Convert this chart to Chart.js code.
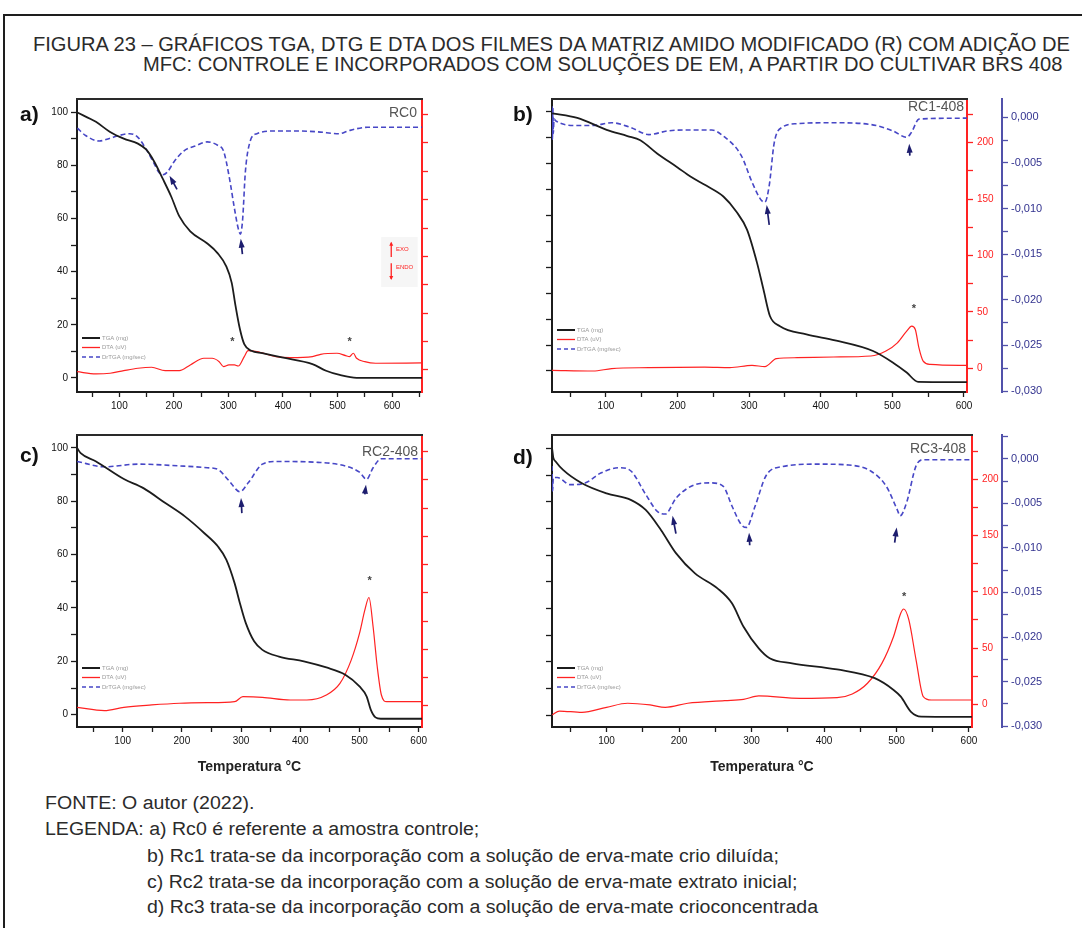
<!DOCTYPE html>
<html lang="pt-BR">
<head>
<meta charset="utf-8">
<title>Figura 23 – TGA, DTG e DTA</title>
<script src="https://cdn.jsdelivr.net/npm/chart.js@4.4.1/dist/chart.umd.min.js"></script>
<style>
  html, body { margin: 0; padding: 0; background: #fff; }
  body { position: relative; width: 1082px; height: 928px; overflow: hidden; color: #2b2b2b;
         font-family: "Liberation Sans Narrow", "Liberation Sans", Arial, sans-serif; }
  .frame { position: absolute; left: 3px; top: 14px; width: 1100px; height: 940px;
           border-left: 2px solid #1e1e1e; border-top: 2px solid #1e1e1e; }
  .line { position: absolute; white-space: nowrap; line-height: 1; transform-origin: 0 50%; }
  .caption { font-size: 20px; }
  .note { font-size: 18px; }
  .tag { position: absolute; line-height: 1; font: bold 21px "Liberation Sans", Arial, sans-serif; color: #111; }
  canvas { position: absolute; }
</style>
</head>
<body>
<div class="frame"></div>
<div class="line caption" id="cap1" style="left:33px;top:34px">FIGURA 23 – GRÁFICOS TGA, DTG E DTA DOS FILMES DA MATRIZ AMIDO MODIFICADO (R) COM ADIÇÃO DE</div>
<div class="line caption" id="cap2" style="left:143px;top:54px">MFC: CONTROLE E INCORPORADOS COM SOLUÇÕES DE EM, A PARTIR DO CULTIVAR BRS 408</div>

<canvas id="rc0" width="500" height="338" style="left:27px;top:84px"></canvas>
<canvas id="rc1" width="570" height="338" style="left:502px;top:84px"></canvas>
<canvas id="rc2" width="500" height="362" style="left:27px;top:420px"></canvas>
<canvas id="rc3" width="570" height="362" style="left:502px;top:420px"></canvas>

<div class="tag" style="left:20px;top:102px">a)</div>
<div class="tag" style="left:513px;top:102px">b)</div>
<div class="tag" style="left:20px;top:443px">c)</div>
<div class="tag" style="left:513px;top:445px">d)</div>

<div class="line note" id="n1" style="left:45px;top:794px">FONTE: O autor (2022).</div>
<div class="line note" id="n2" style="left:45px;top:820px">LEGENDA: a) Rc0 é referente a amostra controle;</div>
<div class="line note" id="n3" style="left:147px;top:847px">b) Rc1 trata-se da incorporação com a solução de erva-mate crio diluída;</div>
<div class="line note" id="n4" style="left:147px;top:873px">c) Rc2 trata-se da incorporação com a solução de erva-mate extrato inicial;</div>
<div class="line note" id="n5" style="left:147px;top:898px">d) Rc3 trata-se da incorporação com a solução de erva-mate crioconcentrada</div>

<script>
// axis labels
const tempLabels = [100, 200, 300, 400, 500, 600];
const massLabels = [0, 20, 40, 60, 80, 100];
const dtaLabels = [0, 50, 100, 150, 200];
const dtgLabels = [0, -0.005, -0.01, -0.015, -0.02, -0.025, -0.03];
const seriesNames = ['TGA (mg)', 'DTA (uV)', 'DrTGA (mg/sec)'];
const panelNames = ['RC0', 'RC1-408', 'RC2-408', 'RC3-408'];

// RC0 (controle)
const rc0TgaT = [22, 57, 83, 108, 134, 149, 164, 179, 195, 210, 230, 260, 280, 296, 306, 313, 321, 329, 342, 362, 398, 454, 479, 504, 535, 655];
const rc0Tga = [100, 96.4, 92.6, 90.1, 88.2, 86, 81.4, 75.2, 68.3, 60.8, 55.2, 50.8, 47.0, 42.0, 35.8, 27.1, 18.4, 12.7, 10.2, 9.3, 7.7, 5.2, 2.7, 1.1, 0, 0];
const rc0DtaT = [22, 57, 83, 108, 134, 159, 184, 210, 230, 255, 270, 283, 291, 301, 311, 318, 329, 336, 352, 387, 413, 454, 469, 499, 515, 522, 529, 535, 550, 570, 655];
const rc0Dta = [-1.5, -3.5, -2.9, -0.6, 1.5, 2.4, -0.6, -0.6, 4.4, 10.3, 10.3, 7.3, 2.9, 4.4, 4.4, 3.5, 11.8, 17.0, 16.2, 11.8, 10.9, 11.8, 13.8, 14.7, 12.6, 11.8, 14.7, 10.3, 7.3, 5.9, 6.2];
const rc0DtgT = [23, 38, 63, 83, 99, 119, 134, 149, 164, 172, 180, 188, 200, 218, 241, 261, 281, 291, 301, 311, 318, 322, 326, 331, 339, 352, 387, 428, 464, 504, 519, 555, 655];
const rc0Dtg = [-0.0012, -0.0020, -0.0026, -0.0023, -0.0020, -0.0018, -0.0022, -0.0035, -0.0051, -0.0060, -0.0063, -0.0060, -0.0049, -0.0037, -0.0031, -0.0027, -0.0031, -0.0037, -0.0064, -0.0100, -0.0122, -0.0128, -0.0112, -0.0060, -0.0028, -0.0018, -0.0015, -0.0015, -0.0016, -0.0018, -0.0015, -0.0011, -0.0011];
const rc0Arrows = [[205.7, -0.0079, 191.9, -0.0064], [325.6, -0.0150, 322.6, -0.0133]];
const rc0Stars = [[307, 26.4], [522, 26.4]];

// RC1-408 (crio diluída)
const rc1TgaT = [25, 60, 101, 130, 148, 171, 200, 218, 240, 264, 282, 297, 311, 320, 329, 343, 380, 420, 473, 501, 520, 536, 604];
const rc1Tga = [99.4, 97.6, 93, 90.6, 89, 84, 78.5, 75, 71.5, 67.3, 61.5, 54.5, 41.7, 31.4, 21.2, 17.3, 14.1, 11.8, 7.7, 3.2, -0.6, -4.2, -4.3];
const rc1DtaT = [24, 82, 108, 160, 238, 273, 304, 322, 338, 367, 418, 470, 491, 507, 520, 527, 532, 537, 543, 553, 604];
const rc1Dta = [-1.8, -2.4, -0.3, 0.6, 1.1, 0.6, 2.6, 1.5, 8.5, 9.4, 10.0, 10.9, 15.3, 22.6, 32.9, 37.3, 34.4, 18.3, 6.4, 3.5, 2.6];
const rc1DtgT = [24.7, 25.3, 25.9, 26.5, 27.5, 30, 56, 82, 108, 134, 160, 186, 212, 248, 263, 289, 304, 317, 322, 328, 335, 346, 367, 418, 470, 501, 520, 527, 537, 604];
const rc1Dtg = [0.0012, -0.0024, 0.0010, -0.0018, -0.0002, -0.0004, -0.0009, -0.0009, -0.0006, -0.0011, -0.0019, -0.0015, -0.0014, -0.0014, -0.0020, -0.0042, -0.0071, -0.0091, -0.0093, -0.0075, -0.0028, -0.0011, -0.0007, -0.0006, -0.0008, -0.0015, -0.0022, -0.0016, -0.0002, -0.0001];
const rc1Arrows = [[328, -0.0118, 324.5, -0.0096], [524.4, -0.0042, 523.5, -0.0029]];
const rc1Stars = [[530, 54]];

// RC2-408 (extrato inicial)
const rc2TgaT = [23, 29, 55, 102, 135, 172, 205, 238, 261, 275, 289, 298, 308, 322, 336, 364, 406, 444, 476, 500, 512, 519, 527, 536, 606];
const rc2Tga = [99.9, 98, 94.9, 88.3, 84.9, 79.3, 74.3, 68.0, 63.0, 58.1, 49.3, 41.8, 34.3, 27.5, 24.3, 21.8, 20.0, 17.7, 15.0, 10.6, 6.9, 1.9, -1.0, -1.5, -1.5];
const rc2DtaT = [23, 69, 102, 149, 196, 243, 289, 303, 336, 383, 411, 444, 467, 486, 500, 509, 516, 523, 530, 537, 546, 606];
const rc2Dta = [-1.2, -4.1, -1.2, 0.9, 2.4, 2.9, 3.8, 8.2, 7.7, 5.3, 5.3, 9.7, 20.0, 40.6, 64.2, 84.8, 96.0, 70.1, 34.7, 9.7, 3.8, 3.8];
const rc2DtgT = [23, 69, 126, 196, 243, 261, 280, 298, 312, 336, 359, 430, 476, 500, 512, 523, 537, 606];
const rc2Dtg = [-0.0003, -0.0009, -0.0006, -0.0008, -0.0010, -0.0012, -0.0025, -0.0037, -0.0027, -0.0006, -0.0003, -0.0004, -0.0008, -0.0015, -0.0023, -0.0010, 0, 0];
const rc2Arrows = [[301.3, -0.0061, 299.9, -0.0044], [509, -0.0040, 511, -0.0029]];
const rc2Stars = [[517, 112]];

// RC3-408 (crioconcentrada)
const rc3TgaT = [25, 26.5, 30, 40, 66, 100, 134, 154, 175, 196, 222, 253, 273, 289, 310, 325, 356, 418, 470, 496, 506, 520, 534, 604];
const rc3Tga = [99.6, 96.5, 95.0, 91.9, 86.9, 83.1, 80.6, 76.9, 69.4, 60.6, 53.1, 47.5, 41.9, 33.1, 25.0, 21.3, 19.4, 17.1, 13.8, 9.4, 6.9, 1.2, -0.6, -0.7];
const rc3DtaT = [25, 35, 66, 100, 129, 160, 181, 212, 263, 289, 310, 367, 418, 439, 460, 480, 496, 506, 510, 517, 527, 537, 548, 604];
const rc3Dta = [-9.5, -6.0, -7.2, -2.7, 0.9, -0.6, -2.7, 0.9, 3.2, 4.4, 7.4, 5.3, 5.9, 9.2, 18.7, 36.6, 60.3, 81.1, 84.7, 75.2, 39.5, 6.8, 3.8, 3.8];
const rc3DtgT = [24.8, 25.5, 26.5, 32, 50, 71, 92, 118, 134, 154, 170, 181, 196, 222, 243, 261, 273, 286, 293, 305, 320, 341, 392, 434, 465, 486, 501, 505, 514, 527, 537, 604];
const rc3Dtg = [-0.0008, -0.0036, -0.0021, -0.0021, -0.0029, -0.0027, -0.0016, -0.0010, -0.0014, -0.0040, -0.0059, -0.0062, -0.0044, -0.0029, -0.0027, -0.0031, -0.0053, -0.0074, -0.0077, -0.0053, -0.0019, -0.0009, -0.0006, -0.0007, -0.0014, -0.0031, -0.0057, -0.0064, -0.0049, -0.0008, -0.0001, -0.0001];
const rc3Arrows = [[195.7, -0.0084, 191, -0.0064], [297.5, -0.0097, 296.6, -0.0083], [497.5, -0.0094, 500.3, -0.0077]];
const rc3Stars = [[510.5, 97]];

const ink = '#1c1c1c', red = '#ff2222', blue = '#4747c6', navy = '#5151aa', arrowInk = '#1d1d6e';
const sans = '"Liberation Sans", Arial, sans-serif';
const tickFont = { family: sans, size: 10 };

function pts(t, v) { return t.map((x, i) => ({ x, y: v[i] })); }
function isLabel(list, v) { return list.some(l => Math.abs(l - v) < 1e-7); }

function drawArrow(ctx, x0, y0, x1, y1) {
  const a = Math.atan2(y1 - y0, x1 - x0), head = 9, half = 3;
  const c = Math.cos(a), s = Math.sin(a);
  ctx.strokeStyle = arrowInk; ctx.fillStyle = arrowInk; ctx.lineWidth = 1.7;
  ctx.beginPath(); ctx.moveTo(x0, y0); ctx.lineTo(x1 - c * head * 0.7, y1 - s * head * 0.7); ctx.stroke();
  ctx.beginPath();
  ctx.moveTo(x1, y1);
  ctx.lineTo(x1 - head * c + half * s, y1 - head * s - half * c);
  ctx.lineTo(x1 - head * c - half * s, y1 - head * s + half * c);
  ctx.closePath(); ctx.fill();
}

// frame top, sample name, small legend, peak markers
function decor(p) {
  return {
    id: 'decor',
    afterDatasetsDraw(chart) {
      const { ctx, chartArea: ca, scales } = chart;
      const x = scales.x, yDta = scales.yDta, yDtg = scales.yDtg;
      ctx.save();
      ctx.strokeStyle = '#2a2a2a'; ctx.lineWidth = 2;
      ctx.beginPath(); ctx.moveTo(ca.left - 1, ca.top); ctx.lineTo(ca.right + 1, ca.top); ctx.stroke();

      ctx.font = '14px ' + sans; ctx.fillStyle = '#555'; ctx.textAlign = 'right'; ctx.textBaseline = 'middle';
      ctx.fillText(p.name, ca.right - p.nameDx, ca.top + p.nameDy);

      const styles = [[ink, 2, []], [red, 1.3, []], [blue, 1.5, [4, 3]]];
      ctx.font = '6px ' + sans; ctx.textAlign = 'left';
      seriesNames.forEach((n, i) => {
        const ly = ca.bottom + p.legendDy + i * 9.5;
        ctx.strokeStyle = styles[i][0]; ctx.lineWidth = styles[i][1]; ctx.setLineDash(styles[i][2]);
        ctx.beginPath(); ctx.moveTo(ca.left + 5, ly); ctx.lineTo(ca.left + 23, ly); ctx.stroke();
        ctx.setLineDash([]);
        ctx.fillStyle = '#999'; ctx.fillText(n, ca.left + 25, ly);
      });

      p.arrows.forEach(([t0, v0, t1, v1]) =>
        drawArrow(ctx, x.getPixelForValue(t0), yDtg.getPixelForValue(v0), x.getPixelForValue(t1), yDtg.getPixelForValue(v1)));

      ctx.font = 'bold 11px ' + sans; ctx.fillStyle = '#444'; ctx.textAlign = 'center';
      p.stars.forEach(([t, v]) => ctx.fillText('*', x.getPixelForValue(t), yDta.getPixelForValue(v) + 2));

      if (p.exoEndo) {
        const bx0 = x.getPixelForValue(580), bx1 = x.getPixelForValue(647);
        const by0 = yDta.getPixelForValue(117), by1 = yDta.getPixelForValue(73);
        ctx.fillStyle = '#f6f6f6'; ctx.fillRect(bx0, by0, bx1 - bx0, by1 - by0);
        const ax = x.getPixelForValue(598.5);
        ctx.strokeStyle = red; ctx.fillStyle = red; ctx.lineWidth = 1.3;
        [[99.5, 112], [94, 80]].forEach(([v0, v1]) => {
          const y0 = yDta.getPixelForValue(v0), y1 = yDta.getPixelForValue(v1), d = Math.sign(y1 - y0);
          ctx.beginPath(); ctx.moveTo(ax, y0); ctx.lineTo(ax, y1); ctx.stroke();
          ctx.beginPath(); ctx.moveTo(ax, y1 + d); ctx.lineTo(ax - 2, y1 - 3 * d); ctx.lineTo(ax + 2, y1 - 3 * d); ctx.closePath(); ctx.fill();
        });
        ctx.font = '6px ' + sans; ctx.textAlign = 'left';
        ctx.fillText('EXO', x.getPixelForValue(607), yDta.getPixelForValue(106.5));
        ctx.fillText('ENDO', x.getPixelForValue(607), yDta.getPixelForValue(90.7));
      }
      ctx.restore();
    }
  };
}

function buildPanel(id, p) {
  const grid = color => ({ drawOnChartArea: false, tickLength: 6, tickColor: color, tickWidth: 1.3 });
  return new Chart(document.getElementById(id), {
    type: 'line',
    data: {
      datasets: [
        { label: seriesNames[0], data: pts(p.tgaT, p.tga), yAxisID: 'y', borderColor: ink, borderWidth: 1.8 },
        { label: seriesNames[1], data: pts(p.dtaT, p.dta), yAxisID: 'yDta', borderColor: red, borderWidth: 1.2 },
        { label: seriesNames[2], data: pts(p.dtgT, p.dtg), yAxisID: 'yDtg', borderColor: blue, borderWidth: 1.6, borderDash: [5, 3] }
      ]
    },
    options: {
      responsive: false,
      animation: false,
      events: [],
      elements: { point: { radius: 0 }, line: { cubicInterpolationMode: 'monotone', fill: false } },
      layout: { padding: { top: 15, left: 0, right: 0, bottom: 0 } },
      plugins: { legend: { display: false }, tooltip: { enabled: false } },
      scales: {
        x: {
          type: 'linear', min: p.xRange[0], max: p.xRange[1],
          border: { color: ink, width: 2 },
          grid: { drawOnChartArea: false, tickLength: 5, tickColor: ink, tickWidth: 1.3 },
          ticks: { stepSize: 50, includeBounds: false, autoSkip: false, maxRotation: 0, padding: 3, color: '#111', font: tickFont,
                   callback: v => isLabel(tempLabels, v) ? String(v) : '' },
          title: { display: p.xTitle, text: 'Temperatura °C', color: '#222', font: { family: sans, size: 14, weight: 'bold' }, padding: { top: 0, bottom: 6 } },
          afterFit: s => { s.height = p.xBox; }
        },
        y: {
          position: 'left', min: p.massRange[0], max: p.massRange[1],
          border: { color: ink, width: 2 },
          grid: grid(ink),
          ticks: { stepSize: 10, includeBounds: false, autoSkip: false, padding: 3, color: '#111', font: tickFont,
                   callback: v => p.massText && isLabel(massLabels, v) ? String(v) : '' },
          afterFit: s => { s.width = 50; }
        },
        yDta: {
          position: 'right', weight: 0, min: p.dtaRange[0], max: p.dtaRange[1],
          border: { color: red, width: 2 },
          grid: grid(red),
          ticks: { stepSize: 25, includeBounds: false, autoSkip: false, padding: 4, color: red, font: tickFont,
                   callback: v => p.outer && isLabel(dtaLabels, v) ? String(v) : '' },
          afterFit: s => { s.width = p.dtaBox; }
        },
        yDtg: {
          position: 'right', weight: 1, display: p.outer, min: p.dtgRange[0], max: p.dtgRange[1],
          border: { color: navy, width: 2 },
          grid: grid(navy),
          ticks: { stepSize: 0.0025, includeBounds: false, autoSkip: false, padding: 3, color: '#33338f', font: { family: sans, size: 11 },
                   callback: v => isLabel(dtgLabels, v) ? (Math.abs(v) < 1e-9 ? 0 : v).toFixed(3).replace('.', ',') : '' },
          afterFit: s => { s.width = 70; }
        }
      }
    },
    plugins: [decor(p)]
  });
}

buildPanel('rc0', {
  tgaT: rc0TgaT, tga: rc0Tga, dtaT: rc0DtaT, dta: rc0Dta, dtgT: rc0DtgT, dtg: rc0Dtg,
  xRange: [22.3, 654.9], massRange: [-5.3, 105], dtaRange: [-19.4, 238.6], dtgRange: [-0.0301, 0.0020],
  massText: true, outer: false, xTitle: false, xBox: 30, dtaBox: 35,
  name: panelNames[0], nameDx: 5, nameDy: 14, legendDy: -54, arrows: rc0Arrows, stars: rc0Stars, exoEndo: true
});
buildPanel('rc1', {
  tgaT: rc1TgaT, tga: rc1Tga, dtaT: rc1DtaT, dta: rc1Dta, dtgT: rc1DtgT, dtg: rc1Dtg,
  xRange: [24.7, 604.2], massRange: [-8.1, 104.9], dtaRange: [-21, 238.7], dtgRange: [-0.0301, 0.0020],
  massText: false, outer: true, xTitle: false, xBox: 30, dtaBox: 35,
  name: panelNames[1], nameDx: 3, nameDy: 8, legendDy: -62, arrows: rc1Arrows, stars: rc1Stars
});
buildPanel('rc2', {
  tgaT: rc2TgaT, tga: rc2Tga, dtaT: rc2DtaT, dta: rc2Dta, dtgT: rc2DtgT, dtg: rc2Dtg,
  xRange: [22.8, 605.6], massRange: [-4.6, 104.8], dtaRange: [-18.6, 239.8], dtgRange: [-0.0301, 0.00267],
  massText: true, outer: false, xTitle: true, xBox: 55, dtaBox: 35,
  name: panelNames[2], nameDx: 4, nameDy: 17, legendDy: -59, arrows: rc2Arrows, stars: rc2Stars
});
buildPanel('rc3', {
  tgaT: rc3TgaT, tga: rc3Tga, dtaT: rc3DtaT, dta: rc3Dta, dtgT: rc3DtgT, dtg: rc3Dtg,
  xRange: [24.7, 604.2], massRange: [-4.5, 105], dtaRange: [-20.2, 239.4], dtgRange: [-0.0301, 0.00267],
  massText: false, outer: true, xTitle: true, xBox: 55, dtaBox: 30,
  name: panelNames[3], nameDx: 6, nameDy: 14, legendDy: -59, arrows: rc3Arrows, stars: rc3Stars
});

// stretch caption and notes to their column widths
function fitLines(ids, keyId, width) {
  const k = width / document.getElementById(keyId).getBoundingClientRect().width;
  ids.forEach(id => { document.getElementById(id).style.transform = 'scaleX(' + k + ')'; });
}
fitLines(['cap1', 'cap2'], 'cap1', 1037);
fitLines(['n1', 'n2', 'n3', 'n4', 'n5'], 'n5', 671);
</script>
</body>
</html>
